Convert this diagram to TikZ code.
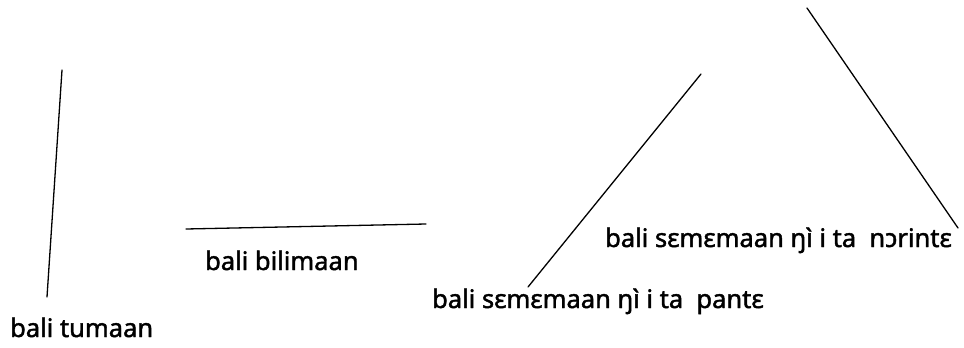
\documentclass[tikz,border=0pt]{standalone}
\usepackage{fontspec}
\newfontfamily\labelfont{Noto Sans}[FakeBold=1.6]
\usepackage{tikz}
\usetikzlibrary{positioning}
\tikzset{
  sidelabel/.style={
    font=\labelfont\fontsize{25.5}{28}\selectfont,
    inner sep=0pt,
    anchor=base
  },
  sideline/.style={line width=1.3pt, line cap=round}
}

\begin{document}
\begin{tikzpicture}[x=1pt,y=-1pt]
  \useasboundingbox (0,0) rectangle (964,348);
  % end points of the four lines
  \coordinate (tumaTop) at (62,70);
  \coordinate (tumaBot) at (47,297);
  \coordinate (biliLeft) at (186,229);
  \coordinate (biliRight) at (426,224);
  \coordinate (panteTop) at (701,74);
  \coordinate (panteBot) at (528,287);
  \coordinate (noriTop) at (807,8);
  \coordinate (noriBot) at (958,228);
  \draw[sideline] (tumaTop) -- (tumaBot);
  \draw[sideline] (biliLeft) -- (biliRight);
  \draw[sideline] (panteTop) -- (panteBot);
  \draw[sideline] (noriTop) -- (noriBot);
  % labels
  \node[sidelabel, anchor=base west] (tumaan) at (10,337) {bali tumaan};
  \node[sidelabel, anchor=base west] (bilimaan) at (205,270) {bali bilimaan};
  \node[sidelabel, anchor=base west] (pante) at (432,308) {bali sɛmɛmaan ŋì i ta\ \ pantɛ};
  \node[sidelabel, anchor=base west] (norinte) at (605,247) {bali sɛmɛmaan ŋì i ta\ \ nɔrintɛ};
\end{tikzpicture}
\end{document}
